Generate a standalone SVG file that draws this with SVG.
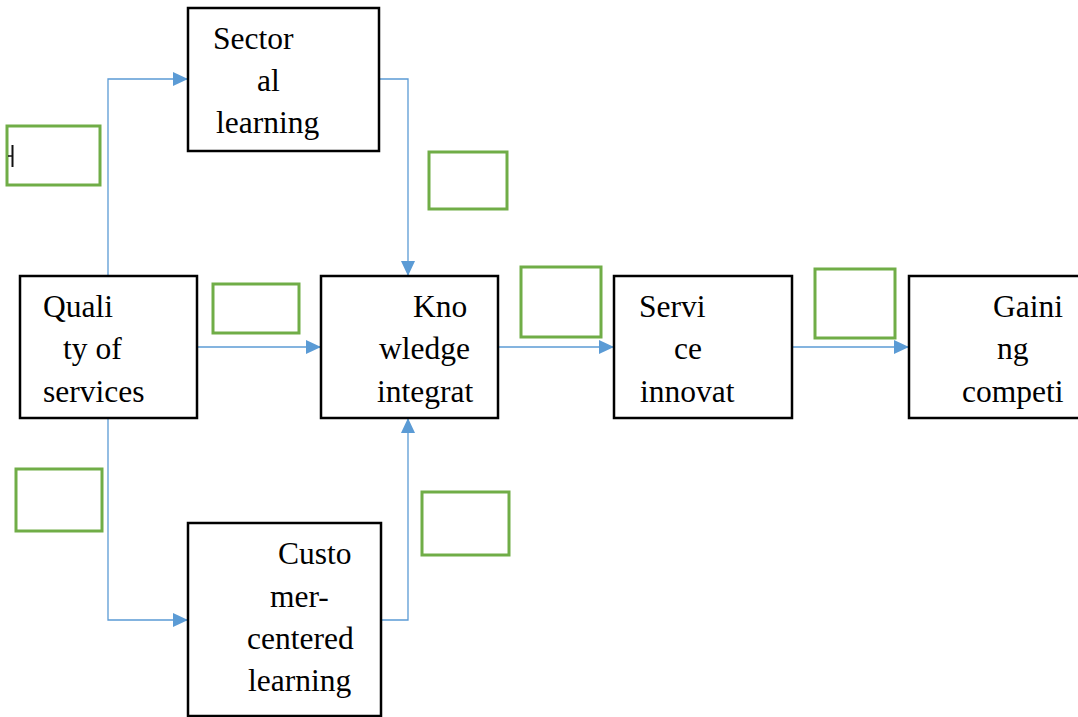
<svg xmlns="http://www.w3.org/2000/svg" width="1078" height="717" viewBox="0 0 1078 717">
  <style>
    .box { fill: #ffffff; stroke: #000000; stroke-width: 2.5; }
    .tag { fill: none; stroke: #70AD47; stroke-width: 3; }
    .lbl { font-family: "Liberation Serif", "Times New Roman", serif; font-size: 31.5px; fill: #000000; }
    .link { fill: none; stroke: #5B9BD5; stroke-width: 1.3; }
  </style>
  <defs>
    <marker id="arrow" viewBox="0 0 15 14" refX="15" refY="7" markerWidth="15" markerHeight="14" markerUnits="userSpaceOnUse" orient="auto">
      <path d="M0,0 L15,7 L0,14 Z" fill="#5B9BD5"/>
    </marker>
  </defs>
  <rect width="1078" height="717" fill="#ffffff"/>

  <!-- connectors -->
  <g id="connectors">
    <polyline class="link" points="108,276 108,79 188,79" marker-end="url(#arrow)"/>
    <polyline class="link" points="379,79 408,79 408,276" marker-end="url(#arrow)"/>
    <line class="link" x1="197" y1="347" x2="321" y2="347" marker-end="url(#arrow)"/>
    <line class="link" x1="498" y1="347" x2="614" y2="347" marker-end="url(#arrow)"/>
    <line class="link" x1="792" y1="347" x2="909" y2="347" marker-end="url(#arrow)"/>
    <polyline class="link" points="108,418 108,620 188,620" marker-end="url(#arrow)"/>
    <polyline class="link" points="381,620 408,620 408,418" marker-end="url(#arrow)"/>
  </g>

  <!-- empty label frames -->
  <g id="labels">
    <rect class="tag" x="7" y="126" width="93" height="59"/>
    <line x1="12.5" y1="145" x2="12.5" y2="167" stroke="#111111" stroke-width="2"/>
    <line x1="8" y1="156" x2="12.5" y2="156" stroke="#111111" stroke-width="1.5"/>
    <rect class="tag" x="429" y="152" width="78" height="57"/>
    <rect class="tag" x="213" y="284" width="86" height="49"/>
    <rect class="tag" x="521" y="267" width="80" height="70"/>
    <rect class="tag" x="815" y="269" width="80" height="69"/>
    <rect class="tag" x="16" y="469" width="86" height="62"/>
    <rect class="tag" x="422" y="492" width="87" height="63"/>
  </g>

  <g id="sectoral-learning">
    <rect class="box" x="188" y="8" width="191" height="143"/>
    <text class="lbl" x="213" y="49">Sector</text>
    <text class="lbl" x="257" y="91">al</text>
    <text class="lbl" x="216" y="133">learning</text>
  </g>

  <g id="quality-of-services">
    <rect class="box" x="20" y="276" width="177" height="142"/>
    <text class="lbl" x="43" y="317">Quali</text>
    <text class="lbl" x="63" y="359">ty of</text>
    <text class="lbl" x="43" y="402">services</text>
  </g>

  <g id="knowledge-integration">
    <rect class="box" x="321" y="276" width="177" height="142"/>
    <text class="lbl" x="413" y="317">Kno</text>
    <text class="lbl" x="379" y="359">wledge</text>
    <text class="lbl" x="377" y="402">integrat</text>
  </g>

  <g id="service-innovation">
    <rect class="box" x="614" y="276" width="178" height="142"/>
    <text class="lbl" x="639" y="317">Servi</text>
    <text class="lbl" x="674" y="359">ce</text>
    <text class="lbl" x="640" y="402">innovat</text>
  </g>

  <g id="gaining-competitiveness">
    <rect class="box" x="909" y="276" width="180" height="142"/>
    <text class="lbl" x="993" y="317">Gaini</text>
    <text class="lbl" x="997" y="359">ng</text>
    <text class="lbl" x="962" y="402">competi</text>
  </g>

  <g id="customer-centered-learning">
    <rect class="box" x="188" y="523" width="193" height="193"/>
    <text class="lbl" x="278" y="564">Custo</text>
    <text class="lbl" x="270" y="607">mer-</text>
    <text class="lbl" x="247" y="649">centered</text>
    <text class="lbl" x="248" y="691">learning</text>
  </g>
</svg>
